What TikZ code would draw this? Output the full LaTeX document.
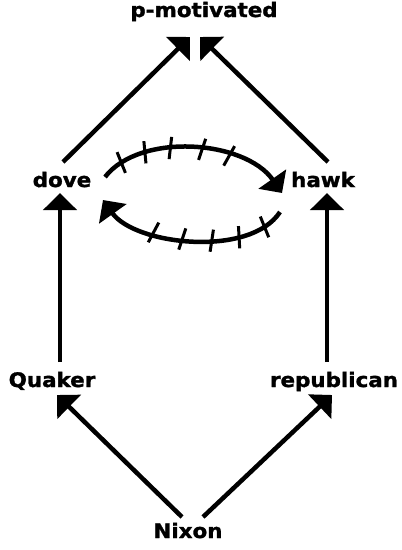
\documentclass[tikz,border=0pt]{standalone}
\usepackage{fontspec}
\setmainfont{DejaVu Sans}[FakeStretch=1.07, BoldFeatures={FakeBold=1.5}]
\usetikzlibrary{arrows.meta,decorations.markings}
\tikzset{
  lbl/.style={inner sep=0pt, anchor=base, font=\bfseries\fontsize{20}{22}\selectfont},
  conn/.style={line width=4.5pt, -{Triangle[length=17pt,width=33pt]}},
  tick/.style={line width=3pt, -},
  hatched/.style n args={5}{postaction={decorate}, decoration={markings,
     mark=at position #1 with {\draw[tick] (-2pt,-11pt) -- (2pt,11pt);},
     mark=at position #2 with {\draw[tick] (-2pt,-11pt) -- (2pt,11pt);},
     mark=at position #3 with {\draw[tick] (-2pt,-11pt) -- (2pt,11pt);},
     mark=at position #4 with {\draw[tick] (-2pt,-11pt) -- (2pt,11pt);},
     mark=at position #5 with {\draw[tick] (-2pt,-11pt) -- (2pt,11pt);}}},
}
\begin{document}
\begin{tikzpicture}[x=1pt,y=-1pt]
\useasboundingbox[fill=white] (0,0) rectangle (402,550);
\node[lbl] (pm) at (204,17) {p-motivated};
\node[lbl] (dove) at (62,187) {dove};
\node[lbl] (hawk) at (323,187) {hawk};
\node[lbl] (quaker) at (52,387) {Quaker};
\node[lbl] (rep) at (334,387) {republican};
\node[lbl] (nixon) at (188,538) {Nixon};

\draw[conn] ([shift={(1pt,25pt)}]dove.base) -- ([shift={(-14pt,-20pt)}]pm.base);
\draw[conn] ([shift={(5pt,25pt)}]hawk.base) -- ([shift={(-4pt,-20pt)}]pm.base);
\draw[conn] ([shift={(8pt,25pt)}]quaker.base) -- ([shift={(-2pt,-6pt)}]dove.base);
\draw[conn] ([shift={(-7pt,25pt)}]rep.base) -- ([shift={(4pt,-6pt)}]hawk.base);
\draw[conn] ([shift={(-6pt,21pt)}]nixon.base) -- ([shift={(5pt,-8pt)}]quaker.base);
\draw[conn] ([shift={(15pt,21pt)}]nixon.base) -- ([shift={(-2pt,-8pt)}]rep.base);

\draw[conn, hatched={0.11}{0.24}{0.37}{0.53}{0.67}] ([shift={(43pt,10pt)}]dove.base) .. controls (140,132) and (245,140) .. ([shift={(-41pt,-6pt)}]hawk.base);
\draw[conn, hatched={0.11}{0.25}{0.39}{0.54}{0.69}] ([shift={(-43pt,-25pt)}]hawk.base) .. controls (250,258) and (135,245) .. ([shift={(41pt,-13pt)}]dove.base);
\end{tikzpicture}
\end{document}
